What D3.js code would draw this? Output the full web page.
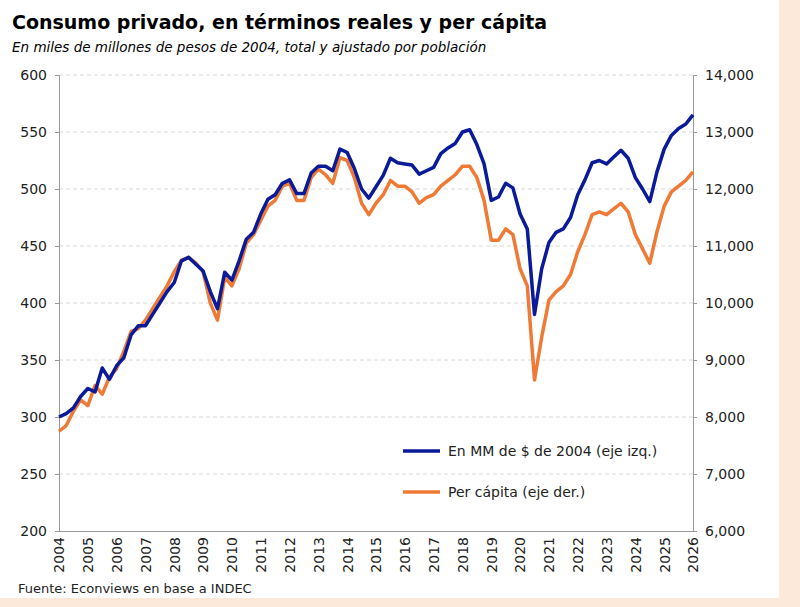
<!DOCTYPE html>
<html><head><meta charset="utf-8">
<script src="https://cdn.jsdelivr.net/npm/d3@7"></script>
<style>body{margin:0;background:#fde9d9}svg{display:block}</style>
</head><body><svg id="c" width="800" height="607"></svg>
<script>
// quarterly, 2004.0 .. 2026.0
const total = [300,303,308,318,325,322,343,333,345,352,372,380,380,390,400,410,418,437,440,434,
  428,410,395,427,420,437,456,462,478,491,495,505,508,496,496,514,520,520,516,535,
  532,518,500,492,502,512,527,523,522,521,513,516,519,531,536,540,550,552,539,522,
  490,493,505,501,478,465,390,430,453,462,465,475,495,508,523,525,522,528,534,527,
  510,500,489,515,535,547,553,557,565];
const perCapita = [7750,7850,8100,8300,8200,8550,8400,8700,8850,9150,9500,9550,9700,9900,10100,10300,
  10550,10750,10800,10700,10550,10000,9700,10450,10300,10600,11050,11200,11450,11700,11800,12050,
  12100,11800,11800,12200,12350,12250,12100,12550,12500,12200,11750,11550,11750,11900,12150,12050,
  12050,11950,11750,11850,11900,12050,12150,12250,12400,12400,12200,11800,11100,11100,11300,11200,
  10600,10300,8650,9400,10050,10200,10300,10500,10900,11200,11550,11600,11550,11650,11750,11600,
  11200,10950,10700,11250,11700,11950,12050,12150,12300];
const years = d3.range(2004, 2027);
const leftTicks = [200,250,300,350,400,450,500,550,600];
const rightTicks = [6000,7000,8000,9000,10000,11000,12000,13000,14000];
const legendLabels = ["En MM de $ de 2004 (eje izq.)", "Per cápita (eje der.)"];
const colors = ["#0a1a99", "#ef7a35"];

const svg = d3.select("#c");
svg.append("rect").attr("width", 779).attr("height", 598).attr("fill", "#fff");
const font = "DejaVu Sans, Verdana, sans-serif";
svg.append("text").attr("x", 12).attr("y", 29).attr("font-family", font).attr("font-size", 19)
  .attr("font-weight", "bold").text("Consumo privado, en términos reales y per cápita");
svg.append("text").attr("x", 12).attr("y", 52).attr("font-family", font).attr("font-size", 13.5)
  .attr("font-style", "italic").text("En miles de millones de pesos de 2004, total y ajustado por población");

const x = d3.scaleLinear().domain([2004, 2026]).range([59, 693]);
const yL = d3.scaleLinear().domain([200, 600]).range([531, 75]);
const yR = d3.scaleLinear().domain([6000, 14000]).range([531, 75]);

svg.append("g").selectAll("line").data(leftTicks.slice(1)).join("line")
  .attr("x1", 59).attr("x2", 693).attr("y1", yL).attr("y2", yL)
  .attr("stroke", "#d8d8d8").attr("stroke-dasharray", "4,3");

const gl = svg.append("g").attr("transform", "translate(59,0)")
  .call(d3.axisLeft(yL).tickValues(leftTicks).tickSize(4).tickPadding(8));
const gr = svg.append("g").attr("transform", "translate(693,0)")
  .call(d3.axisRight(yR).tickValues(rightTicks).tickSize(4).tickPadding(8).tickFormat(d3.format(",")));
const gx = svg.append("g").attr("transform", "translate(0,531)")
  .call(d3.axisBottom(x).tickValues(years).tickSize(0).tickFormat(d3.format("d")));
gx.selectAll("text").attr("text-anchor", "end")
  .attr("x", -6).attr("y", 0).attr("dy", "0.35em")
  .attr("transform", "rotate(-90)");
[gl, gr, gx].forEach(g => {
  g.selectAll("text").attr("font-family", font).attr("font-size", 14).attr("fill", "#222");
  g.selectAll("path,line").attr("stroke", "#999");
});

const q = (d, i) => x(2004 + i / 4);
svg.append("path").datum(perCapita).attr("fill", "none").attr("stroke", colors[1]).attr("stroke-width", 3.5)
  .attr("stroke-linejoin", "round").attr("d", d3.line().x(q).y(d => yR(d)));
svg.append("path").datum(total).attr("fill", "none").attr("stroke", colors[0]).attr("stroke-width", 3.5)
  .attr("stroke-linejoin", "round").attr("d", d3.line().x(q).y(d => yL(d)));

const lg = svg.append("g").selectAll("g").data(legendLabels).join("g")
  .attr("transform", (d, i) => `translate(403,${451 + i * 41})`);
lg.append("line").attr("x2", 37).attr("stroke", (d, i) => colors[i]).attr("stroke-width", 3.5);
lg.append("text").attr("x", 45).attr("dy", "0.35em").attr("font-family", font).attr("font-size", 14)
  .attr("fill", "#222").text(d => d);

svg.append("text").attr("x", 18).attr("y", 593).attr("font-family", font).attr("font-size", 13)
  .attr("fill", "#222").text("Fuente: Econviews en base a INDEC");
</script></body></html>
